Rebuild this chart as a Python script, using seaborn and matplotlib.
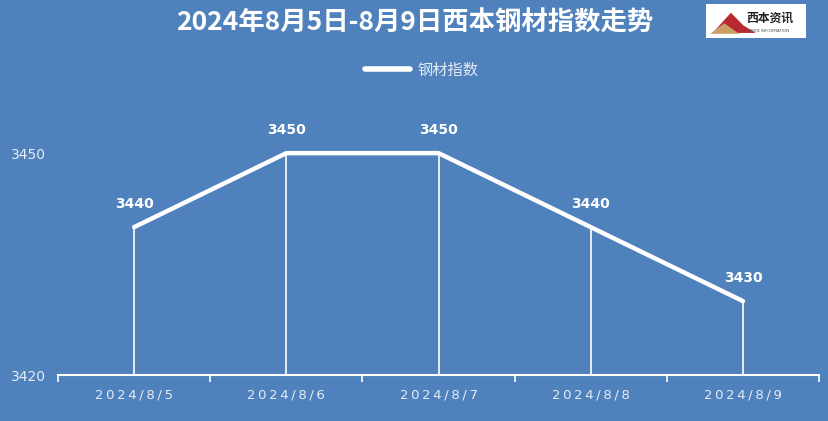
import matplotlib
matplotlib.use("Agg")
import matplotlib.pyplot as plt
import seaborn as sns
import pandas as pd
from matplotlib.patches import Rectangle, Polygon

dates = ["2024/8/5", "2024/8/6", "2024/8/7", "2024/8/8", "2024/8/9"]
values = [3440, 3450, 3450, 3440, 3430]
series_name = "钢材指数"
title = "2024年8月5日-8月9日西本钢材指数走势"

sns.set_theme(style="white")
plt.rcParams['font.family'] = ['Noto Sans CJK SC', 'DejaVu Sans']

bg = "#4F81BD"
txt = "#E6ECF5"
df = pd.DataFrame({"date": dates, "value": values})
df["x"] = range(len(df))

fig = plt.figure(figsize=(8.29, 4.21), dpi=100, facecolor=bg)
ax = fig.add_axes([0.070, 0.109, 0.918, 0.703])
ax.set_facecolor(bg)

sns.lineplot(data=df, x="x", y="value", ax=ax, color="white", linewidth=3.2,
             label=series_name, solid_capstyle="round")
ymin = 3420
for xi, v in zip(df["x"], df["value"]):
    ax.plot([xi, xi], [ymin, v], color="white", linewidth=1.2, zorder=1)
    ax.text(xi, v + 2.2, str(v), ha="center", va="bottom", color="white",
            fontsize=10, fontweight="bold", family="DejaVu Sans")

ax.set_xlim(-0.5, len(dates) - 0.5)
ax.set_ylim(3420, 3460)
ax.set_yticks([3420, 3450])
ax.set_yticklabels(["3420", "3450"], color=txt, fontsize=10, family="DejaVu Sans")
ax.set_xticks(df["x"])
ax.set_xticklabels([d.replace("", "\u2009").strip("\u2009") for d in dates],
                   color=txt, fontsize=9.5, family="DejaVu Sans")
ax.set_xticks([i - 0.5 for i in range(len(dates) + 1)], minor=True)
ax.tick_params(axis="x", which="both", bottom=True)
ax.tick_params(axis="x", which="major", length=0, pad=10)
ax.tick_params(axis="x", which="minor", length=5, width=1.2, color="white", direction="out")
ax.tick_params(axis="y", length=0, pad=9)
ax.set_xlabel("")
ax.set_ylabel("")
for s in ["top", "right", "left"]:
    ax.spines[s].set_visible(False)
ax.spines["bottom"].set_color("white")
ax.spines["bottom"].set_linewidth(1.5)

leg = ax.legend(loc="center", bbox_to_anchor=(0.478, 1.03), frameon=False,
                fontsize=11, handlelength=3, handletextpad=0.5, labelcolor=txt)
for line in leg.get_lines():
    line.set_linewidth(4)

fig.text(0.50, 0.946, title, ha="center", va="center", color="white",
         fontsize=19, fontweight="bold")

# logo
lx, ly, lw, lh = 706 / 829, 1 - 38 / 421, 100 / 829, 34 / 421
fig.patches.append(Rectangle((lx, ly), lw, lh, transform=fig.transFigure,
                             facecolor="white", edgecolor="none"))
fig.patches.append(Polygon([(lx + 0.008, ly + 0.012), (lx + 0.030, ly + 0.060),
                            (lx + 0.045, ly + 0.030), (lx + 0.060, ly + 0.012)],
                           closed=True, transform=fig.transFigure,
                           facecolor="#B8292F", edgecolor="none"))
fig.patches.append(Polygon([(lx + 0.005, ly + 0.010), (lx + 0.022, ly + 0.035),
                            (lx + 0.040, ly + 0.010)],
                           closed=True, transform=fig.transFigure,
                           facecolor="#C9A063", edgecolor="none"))
fig.text(lx + 0.077, ly + 0.048, "西本资讯", ha="center", va="center",
         color="#222222", fontsize=8.5, fontweight="bold")
fig.text(lx + 0.075, ly + 0.016, "XIBEN INFORMATION", ha="center", va="center",
         color="#555555", fontsize=3, family="DejaVu Sans")

fig.savefig("out.png", dpi=100, facecolor=bg)
